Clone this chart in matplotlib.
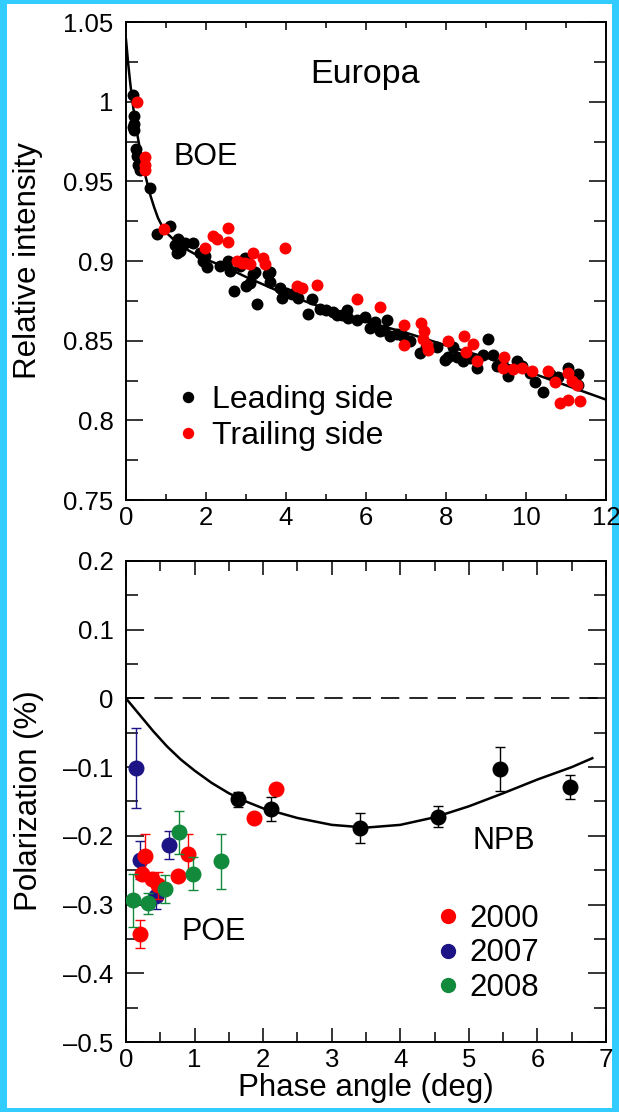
import matplotlib
matplotlib.use('Agg')
import matplotlib.pyplot as plt
from matplotlib.ticker import MultipleLocator, FuncFormatter
from matplotlib.lines import Line2D
from matplotlib.patches import Rectangle

plt.rcParams['font.family'] = ['Liberation Sans', 'DejaVu Sans']

# --- Europa photometry (top panel) ---
lead_x = [0.18, 0.20, 0.20, 0.20, 0.18, 0.25, 0.27, 0.30, 0.35, 0.42, 0.60, 0.77,
          1.10, 1.31, 1.23, 1.48, 1.35, 1.27, 1.68, 1.85, 1.93, 2.02, 1.98, 2.35,
          2.56, 2.60, 2.70, 2.85, 2.98, 3.00, 3.10, 3.18, 3.23, 3.27, 3.56, 3.60,
          3.60, 3.85, 3.89, 4.00, 4.14, 4.30, 4.56, 4.64, 4.85, 5.00, 5.18, 5.27,
          5.40, 5.52, 5.56, 5.77, 5.98, 6.10, 6.23, 6.35, 6.45, 6.52, 6.60, 6.77,
          6.93, 7.10, 7.35, 7.50, 7.77, 7.98, 8.05, 8.18, 8.27, 8.43, 8.60, 8.77,
          8.93, 9.06, 9.18, 9.27, 9.40, 9.56, 9.77, 9.90, 10.10, 10.23, 10.43,
          10.60, 10.80, 11.06, 11.20, 11.31, 11.30]
lead_y = [1.004, 0.991, 0.986, 0.982, 0.984, 0.970, 0.966, 0.960, 0.957, 0.962, 0.946, 0.917,
          0.922, 0.914, 0.910, 0.911, 0.906, 0.905, 0.911, 0.905, 0.900, 0.896, 0.903, 0.897,
          0.900, 0.894, 0.881, 0.897, 0.902, 0.884, 0.886, 0.892, 0.893, 0.873, 0.892, 0.893,
          0.887, 0.883, 0.877, 0.880, 0.879, 0.877, 0.867, 0.876, 0.870, 0.869, 0.868, 0.866,
          0.866, 0.869, 0.864, 0.863, 0.865, 0.858, 0.862, 0.856, 0.857, 0.863, 0.853, 0.854,
          0.853, 0.850, 0.842, 0.846, 0.846, 0.838, 0.840, 0.846, 0.840, 0.837, 0.839, 0.833,
          0.841, 0.851, 0.841, 0.834, 0.836, 0.828, 0.837, 0.834, 0.830, 0.824, 0.818,
          0.829, 0.827, 0.833, 0.826, 0.829, 0.822]

trail_x = [0.28, 0.475, 0.475, 0.475, 0.95, 1.98, 2.18, 2.27, 2.56, 2.56, 2.77, 2.90,
           2.98, 3.10, 3.18, 3.43, 3.48, 3.98, 4.27, 4.39, 4.77, 5.77, 6.35, 6.95,
           6.95, 7.37, 7.45, 7.43, 7.52, 7.56, 8.06, 8.45, 8.67, 8.50, 8.77, 9.45,
           9.43, 9.68, 9.89, 10.14, 10.56, 10.73, 11.06, 11.14, 11.27, 10.85, 11.06, 11.35]
trail_y = [1.000, 0.965, 0.960, 0.957, 0.920, 0.908, 0.916, 0.914, 0.921, 0.912, 0.900, 0.899,
           0.899, 0.898, 0.905, 0.902, 0.898, 0.908, 0.884, 0.883, 0.885, 0.876, 0.871, 0.860,
           0.847, 0.861, 0.856, 0.851, 0.847, 0.844, 0.850, 0.853, 0.848, 0.843, 0.837, 0.840,
           0.833, 0.832, 0.833, 0.831, 0.831, 0.824, 0.830, 0.825, 0.822, 0.811, 0.813, 0.812]

fit1_x = [0, 0.05, 0.1, 0.15, 0.2, 0.25, 0.3, 0.35, 0.4, 0.5, 0.6, 0.7, 0.8, 0.9, 1.0,
          1.25, 1.5, 1.75, 2, 2.5, 3, 4, 5, 6, 7, 8, 9, 10, 11, 12]
fit1_y = [1.039, 1.025, 1.013, 1.002, 0.993, 0.984, 0.977, 0.970, 0.963, 0.952, 0.942,
          0.934, 0.927, 0.922, 0.918, 0.912, 0.9075, 0.904, 0.901, 0.896, 0.890, 0.879,
          0.870, 0.862, 0.855, 0.847, 0.8395, 0.831, 0.822, 0.813]

# --- Europa polarimetry (bottom panel) ---
p2000_x = [0.21, 0.23, 0.28, 0.375, 0.47, 0.76, 0.91, 1.86, 2.19]
p2000_y = [-0.343, -0.256, -0.229, -0.263, -0.272, -0.258, -0.226, -0.174, -0.132]
p2000_e = [0.02, 0.0, 0.032, 0.0, 0.02, 0.0, 0.028, 0.0, 0.0]

p2007_x = [0.146, 0.204, 0.44, 0.63]
p2007_y = [-0.101, -0.235, -0.287, -0.213]
p2007_e = [0.058, 0.028, 0.02, 0.02]

p2008_x = [0.10, 0.325, 0.57, 0.77, 0.97, 1.39]
p2008_y = [-0.294, -0.298, -0.277, -0.195, -0.255, -0.237]
p2008_e = [0.038, 0.015, 0.02, 0.031, 0.024, 0.04]

pblk_x = [1.64, 2.12, 3.41, 4.55, 5.45, 6.47]
pblk_y = [-0.147, -0.161, -0.189, -0.172, -0.103, -0.129]
pblk_e = [0.011, 0.018, 0.022, 0.015, 0.032, 0.017]

fit2_x = [0, 0.1, 0.25, 0.4, 0.6, 0.8, 1.0, 1.25, 1.5, 1.75, 2, 2.5, 3, 3.5, 4, 4.5,
          5, 5.5, 6, 6.5, 6.8]
fit2_y = [0, -0.012, -0.030, -0.048, -0.070, -0.089, -0.105, -0.123, -0.138, -0.150,
          -0.160, -0.174, -0.184, -0.188, -0.184, -0.173, -0.157, -0.138, -0.118,
          -0.100, -0.087]

RED = '#ff0000'
BLUE = '#1c1484'
GREEN = '#118a3c'
CYAN = '#33ccff'

W, H = 619, 1112


def fmt(v, pos):
    s = '%g' % round(v, 3)
    if s == '-0':
        s = '0'
    return s.replace('-', '\u2013')


fig = plt.figure(figsize=(W / 100, H / 100), dpi=100, facecolor=CYAN)
fig.add_artist(Rectangle((7 / W, 4 / H), 605 / W, 1104 / H, transform=fig.transFigure,
                         facecolor='white', edgecolor='none', zorder=-10))

ax1 = fig.add_axes([126 / W, 1 - 500 / H, 480 / W, 478 / H])
ax2 = fig.add_axes([126 / W, 1 - 1042 / H, 480 / W, 481 / H])

for ax in (ax1, ax2):
    for sp in ax.spines.values():
        sp.set_linewidth(1.4)
    ax.tick_params(which='both', direction='in', top=True, right=True, width=1.1,
                   labelsize=18.5, colors='black')
    ax.tick_params(axis='y', which='major', pad=9)
    ax.tick_params(axis='x', which='major', pad=4)
    ax.xaxis.set_major_formatter(FuncFormatter(fmt))
    ax.yaxis.set_major_formatter(FuncFormatter(fmt))

# top panel
ax1.plot(fit1_x, fit1_y, color='black', lw=1.8, zorder=2)
ax1.scatter(lead_x, lead_y, s=74, color='black', linewidths=0, zorder=3)
ax1.scatter(trail_x, trail_y, s=74, color=RED, linewidths=0, zorder=4)
ax1.set_xlim(0, 12)
ax1.set_ylim(0.75, 1.05)
ax1.xaxis.set_major_locator(MultipleLocator(2))
ax1.xaxis.set_minor_locator(MultipleLocator(1))
ax1.yaxis.set_major_locator(MultipleLocator(0.05))
ax1.yaxis.set_minor_locator(MultipleLocator(0.025))
ax1.tick_params(axis='x', which='major', length=6)
ax1.tick_params(axis='x', which='minor', length=4)
ax1.tick_params(axis='y', which='major', length=12)
ax1.tick_params(axis='y', which='minor', length=8.5)

ax1.text(5.98, 1.0117, 'Europa', fontsize=24.5, ha='center', va='baseline')
ax1.text(1.18, 0.9603, 'BOE', fontsize=22, ha='left', va='baseline')

h_lead = Line2D([], [], ls='none', marker='o', ms=7.2, color='black')
h_trail = Line2D([], [], ls='none', marker='o', ms=7.2, color=RED)
ax1.legend([h_lead, h_trail], ['Leading side', 'Trailing side'], loc='upper left',
           bbox_to_anchor=(0.1125, 0.240), frameon=False, fontsize=23,
           handlelength=0.5, handletextpad=0.5, labelspacing=0.18,
           borderpad=0, borderaxespad=0)

fig.text(28 / W, 1 - 261 / H, 'Relative intensity', rotation=90, fontsize=22.5,
         ha='center', va='center')

# bottom panel
ax2.axhline(0, color='black', lw=1.2, ls=(0, (11, 6)), zorder=1)
ax2.plot(fit2_x, fit2_y, color='black', lw=1.8, zorder=2)
ebkw = dict(fmt='o', ms=10.5, elinewidth=1.0, capsize=3.5, capthick=1.0)
ax2.errorbar(p2007_x, p2007_y, yerr=p2007_e, color=BLUE, zorder=3, **ebkw)
ax2.errorbar(p2000_x, p2000_y, yerr=p2000_e, color=RED, zorder=4, **ebkw)
ax2.errorbar(p2008_x, p2008_y, yerr=p2008_e, color=GREEN, zorder=5, **ebkw)
ax2.errorbar(pblk_x, pblk_y, yerr=pblk_e, color='black', zorder=6, **ebkw)
ax2.set_xlim(0, 7)
ax2.set_ylim(-0.5, 0.2)
ax2.xaxis.set_major_locator(MultipleLocator(1))
ax2.xaxis.set_minor_locator(MultipleLocator(0.5))
ax2.yaxis.set_major_locator(MultipleLocator(0.1))
ax2.yaxis.set_minor_locator(MultipleLocator(0.05))
ax2.tick_params(axis='x', which='major', length=10)
ax2.tick_params(axis='x', which='minor', length=7)
ax2.tick_params(axis='y', which='major', length=13)
ax2.tick_params(axis='y', which='minor', length=8.5)

ax2.text(5.06, -0.219, 'NPB', fontsize=22, ha='left', va='baseline')
ax2.text(0.816, -0.351, 'POE', fontsize=22, ha='left', va='baseline')

yr_handles = [Line2D([], [], ls='none', marker='o', ms=10, color=c) for c in (RED, BLUE, GREEN)]
ax2.legend(yr_handles, ['2000', '2007', '2008'], loc='upper left',
           bbox_to_anchor=(0.654, 0.287), frameon=False, fontsize=22.5,
           handlelength=0.5, handletextpad=0.45, labelspacing=0.145,
           borderpad=0, borderaxespad=0)

fig.text(29 / W, 1 - 801 / H, 'Polarization (%)', rotation=90, fontsize=22.5,
         ha='center', va='center')
fig.text(366 / W, 1 - 1088 / H, 'Phase angle (deg)', fontsize=22.5,
         ha='center', va='center')

fig.savefig('out.png', dpi=100, facecolor=CYAN)
